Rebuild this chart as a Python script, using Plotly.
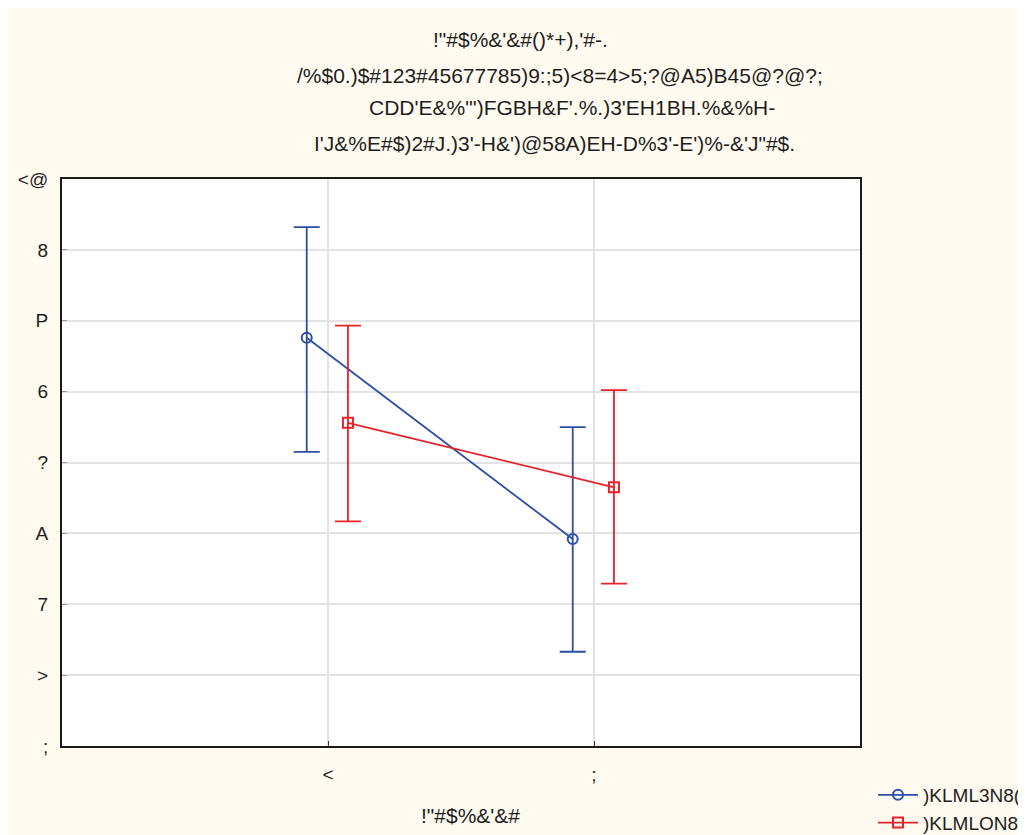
import plotly.graph_objects as go

# ---- data ----
categories = [1, 2]
cat_labels = ["<", ";"]
series_names = [")KLML3N8(", ")KLMLON8("]
blue_x = [0.92, 1.92]
blue_mean = [5.76, 2.92]
blue_upper = [7.32, 4.50]
blue_lower = [4.15, 1.33]
red_x = [1.075, 2.075]
red_mean = [4.56, 3.65]
red_upper = [5.93, 5.02]
red_lower = [3.17, 2.29]
y_ticks = [0, 1, 2, 3, 4, 5, 6, 7, 8]
y_ticklabels = [";", ">", "7", "A", "?", "6", "P", "8", "<@"]
title_lines = [
    "!\"#$%&'&#()*+),'#-.",
    "/%$0.)$#123#45677785)9:;5)<8=4>5;?@A5)B45@?@?;",
    "CDD'E&%\"')FGBH&F'.%.)3'EH1BH.%&%H-",
    "I'J&%E#$)2#J.)3'-H&')@58A)EH-D%3'-E')%-&'J\"#$.",
]
x_title = "!\"#$%&'&#"

BLUE = "#2b4ea6"
RED = "#e8222a"
FONT = "Liberation Sans, Arial, sans-serif"
TXT = "#1e1e1e"

fig = go.Figure()
for xs, m, up, lo, col, sym, name in [
    (blue_x, blue_mean, blue_upper, blue_lower, BLUE, "circle-open", series_names[0]),
    (red_x, red_mean, red_upper, red_lower, RED, "square-open", series_names[1]),
]:
    fig.add_trace(go.Scatter(
        x=xs, y=m, name=name, mode="lines+markers",
        line=dict(color=col, width=1.8),
        marker=dict(symbol=sym, size=10, color=col, line=dict(width=2, color=col)),
        error_y=dict(type="data", symmetric=False,
                     array=[u - v for u, v in zip(up, m)],
                     arrayminus=[v - l for v, l in zip(m, lo)],
                     color=col, thickness=1.8, width=13),
    ))

OFF = 8  # page body offset
L, T = 62 - OFF, 179 - OFF
Rx, By = 860 - OFF, 746 - OFF
R, B = 1026 - Rx, 835 - By
PW, PH = Rx - L, By - T

def px_x(p):
    return (p - OFF - L) / PW

def px_y(p):
    return (By - (p - OFF)) / PH

title_centers = [(520, 40), (560, 75), (572, 108), (554, 143)]
annotations = []
for txt, (cx, cy) in zip(title_lines, title_centers):
    annotations.append(dict(text=txt, x=px_x(cx), y=px_y(cy), xref="paper", yref="paper",
                            xanchor="center", yanchor="middle", showarrow=False,
                            font=dict(family=FONT, size=21, color=TXT)))
annotations.append(dict(text=x_title, x=px_x(470), y=px_y(815), xref="paper", yref="paper",
                        xanchor="center", yanchor="middle", showarrow=False,
                        font=dict(family=FONT, size=21, color=TXT)))

fig.update_layout(
    width=1026, height=835,
    margin=dict(l=L, r=R, t=T, b=B, autoexpand=False),
    paper_bgcolor="#fffaef",
    plot_bgcolor="#ffffff",
    font=dict(family=FONT, size=19, color=TXT),
    showlegend=True,
    legend=dict(x=px_x(873), y=px_y(776), xanchor="left", yanchor="top",
                bgcolor="rgba(0,0,0,0)", font=dict(size=19), tracegroupgap=0,
                itemwidth=40),
    annotations=annotations,
    xaxis=dict(range=[0, 3], tickvals=categories, ticktext=cat_labels,
               showgrid=True, gridcolor="#e3e3e3", gridwidth=2,
               showline=True, linecolor="#1a1a1a", linewidth=2, mirror=True,
               ticks="inside", ticklen=5, tickcolor="#333333", zeroline=False,
               tickfont=dict(size=19), ticklabelstandoff=10),
    yaxis=dict(range=[0, 8], tickvals=y_ticks, ticktext=y_ticklabels,
               showgrid=True, gridcolor="#e3e3e3", gridwidth=2,
               showline=True, linecolor="#1a1a1a", linewidth=2, mirror=True,
               ticks="inside", ticklen=5, tickcolor="#999999", zeroline=False,
               tickfont=dict(size=19), ticklabelstandoff=8),
)

fig.write_html("out.html")
